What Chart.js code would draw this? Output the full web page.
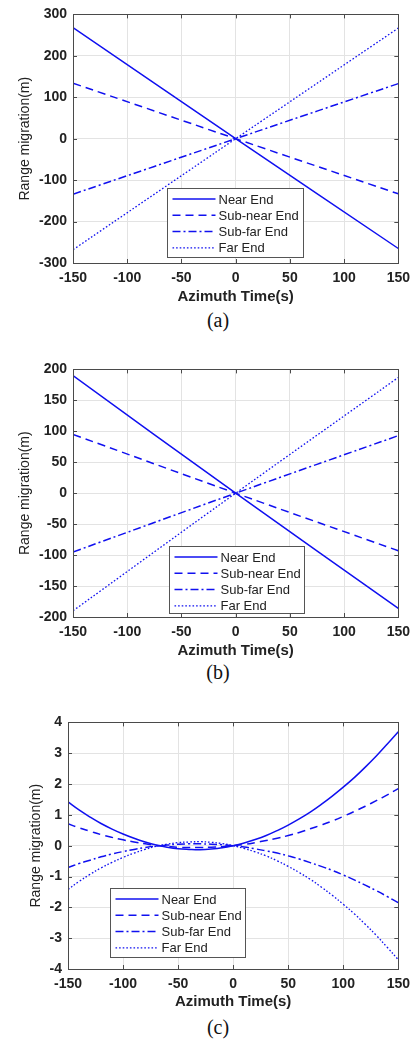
<!DOCTYPE html>
<html lang="en">

<head>
    <meta charset="UTF-8">
    <title>Range migration vs azimuth time</title>
    <script src="https://cdn.jsdelivr.net/npm/chart.js@4.4.1/dist/chart.umd.min.js"></script>
    <style>
        body { margin: 0; background: #fff; width: 417px; height: 1040px; position: relative; overflow: hidden; }
        canvas { position: absolute; left: 0; }
        .cap { position: absolute; left: 188px; width: 60px; text-align: center; font: 20px "Liberation Serif", serif; line-height: 24px; color: #111; }
    </style>
</head>

<body>

    <canvas id="chartA" width="417" height="306" style="top:0px"></canvas>
    <div class="cap" style="top:308px">(a)</div>
    <canvas id="chartB" width="417" height="305" style="top:355px"></canvas>
    <div class="cap" style="top:660px">(b)</div>
    <canvas id="chartC" width="417" height="303" style="top:708px"></canvas>
    <div class="cap" style="top:1015px">(c)</div>

    <script>

        // series names
        const seriesNames = ['Near End', 'Sub-near End', 'Sub-far End', 'Far End'];

        // tick labels
        const xTicks = [-150, -100, -50, 0, 50, 100, 150];
        const yTicksA = [-300, -200, -100, 0, 100, 200, 300];
        const yTicksB = [-200, -150, -100, -50, 0, 50, 100, 150, 200];
        const yTicksC = [-4, -3, -2, -1, 0, 1, 2, 3, 4];

        // (a) and (b) are straight lines
        const timeLin = [-150, 0, 150];
        const nearA = [268, 0, -265];
        const subNearA = [134, 0, -133];
        const subFarA = [-134, 0, 133];
        const farA = [-268, 0, 267];

        const nearB = [190, 0, -186];
        const subNearB = [95, 0, -93];
        const subFarB = [-95, 0, 93];
        const farB = [-190, 0, 187];

        // (c) curves read every 10 s
        const timeC = [-150, -140, -130, -120, -110, -100, -90, -80, -70, -60, -50, -40, -30, -20, -10, 0,
            10, 20, 30, 40, 50, 60, 70, 80, 90, 100, 110, 120, 130, 140, 150];
        const nearC = [1.42, 1.16, 0.93, 0.72, 0.54, 0.38, 0.24, 0.12, 0.02, -0.05, -0.10, -0.12, -0.13, -0.11, -0.07, 0,
            0.09, 0.20, 0.33, 0.49, 0.67, 0.87, 1.09, 1.34, 1.61, 1.90, 2.21, 2.55, 2.91, 3.30, 3.70];
        const subNearC = [0.71, 0.58, 0.47, 0.36, 0.27, 0.19, 0.12, 0.06, 0.01, -0.02, -0.05, -0.06, -0.06, -0.05, -0.03, 0,
            0.04, 0.10, 0.17, 0.24, 0.33, 0.43, 0.55, 0.67, 0.80, 0.95, 1.11, 1.28, 1.46, 1.65, 1.85];
        const subFarC = [-0.71, -0.58, -0.47, -0.36, -0.27, -0.19, -0.12, -0.06, -0.01, 0.02, 0.05, 0.06, 0.06, 0.05, 0.03, 0,
            -0.04, -0.10, -0.17, -0.24, -0.33, -0.43, -0.55, -0.67, -0.80, -0.95, -1.11, -1.28, -1.46, -1.65, -1.85];
        const farC = [-1.42, -1.16, -0.93, -0.72, -0.54, -0.38, -0.24, -0.12, -0.02, 0.05, 0.10, 0.12, 0.13, 0.11, 0.07, 0,
            -0.09, -0.20, -0.33, -0.49, -0.67, -0.87, -1.09, -1.34, -1.61, -1.90, -2.21, -2.55, -2.91, -3.30, -3.70];

        const dashes = [[], [8, 5], [8, 3, 2, 3], [1.6, 2]];
        const widths = [1.5, 1.5, 1.5, 1.3];

        // box, inward ticks and legend like matlab
        const framePlugin = {
            id: 'frame',
            afterDatasetsDraw(chart, args, opts) {
                const ctx = chart.ctx;
                const a = chart.chartArea;
                const xs = chart.scales.x, ys = chart.scales.y;
                function seg(x1, y1, x2, y2) { ctx.beginPath(); ctx.moveTo(x1, y1); ctx.lineTo(x2, y2); ctx.stroke(); }
                ctx.save();
                ctx.setLineDash([]);
                ctx.strokeStyle = '#4a4a4a';
                ctx.lineWidth = 1;
                for (const t of xs.ticks) {
                    const px = Math.round(xs.getPixelForValue(t.value)) + 0.5;
                    seg(px, a.bottom, px, a.bottom - 4);
                    seg(px, a.top, px, a.top + 4);
                }
                for (const t of ys.ticks) {
                    const py = Math.round(ys.getPixelForValue(t.value)) + 0.5;
                    seg(a.left, py, a.left + 4, py);
                    seg(a.right, py, a.right - 4, py);
                }
                ctx.strokeRect(Math.round(a.left) + 0.5, Math.round(a.top) + 0.5, Math.round(a.right - a.left), Math.round(a.bottom - a.top));

                // legend box
                const L = opts.box;
                const bx = Math.round(a.left + L.left) + 0.5;
                const by = Math.round(a.bottom - L.bottom - L.height) + 0.5;
                ctx.fillStyle = '#fff';
                ctx.fillRect(bx, by, L.width, L.height);
                ctx.strokeStyle = '#555';
                ctx.strokeRect(bx, by, L.width, L.height);
                ctx.font = '13px "Liberation Sans", Arial, sans-serif';
                ctx.textBaseline = 'middle';
                ctx.fillStyle = '#222';
                chart.data.datasets.forEach((ds, i) => {
                    const cy = by + 10.5 + i * 16.3;
                    ctx.strokeStyle = ds.borderColor;
                    ctx.lineWidth = ds.borderWidth;
                    ctx.setLineDash(ds.borderDash);
                    seg(bx + 5, cy, bx + 48, cy);
                    ctx.fillText(ds.label, bx + 51, cy + 1);
                });
                ctx.restore();
            }
        };

        function makeChart(id, xVals, seriesList, yTicks, yWidth, yTitlePad, xHeight, rightPad, legendBox) {
            const datasets = seriesList.map((vals, i) => ({
                label: seriesNames[i],
                data: xVals.map((t, k) => ({ x: t, y: vals[k] })),
                borderColor: '#1010f0',
                borderWidth: widths[i],
                borderDash: dashes[i],
                pointRadius: 0,
                tension: 0.4,
                fill: false
            }));
            const tickFont = { family: '"Liberation Sans", Arial, sans-serif', size: 14, weight: 'bold' };
            return new Chart(document.getElementById(id).getContext('2d'), {
                type: 'line',
                data: { datasets: datasets },
                options: {
                    responsive: false,
                    animation: false,
                    devicePixelRatio: 1,
                    layout: { padding: { top: 13, right: rightPad, left: 0, bottom: 0 } },
                    plugins: {
                        legend: { display: false },
                        tooltip: { enabled: false },
                        frame: { box: legendBox }
                    },
                    scales: {
                        x: {
                            type: 'linear',
                            min: xTicks[0],
                            max: xTicks[xTicks.length - 1],
                            afterBuildTicks: s => { s.ticks = xTicks.map(v => ({ value: v })); },
                            afterFit: s => { s.height = xHeight; },
                            grid: { color: '#e3e3e3', drawTicks: false },
                            border: { display: false },
                            ticks: { font: tickFont, color: '#222', padding: 7, maxRotation: 0 },
                            title: {
                                display: true, text: 'Azimuth Time(s)', color: '#222',
                                font: { family: '"Liberation Sans", Arial, sans-serif', size: 15, weight: 'bold' },
                                padding: { top: 0, bottom: 0 }
                            }
                        },
                        y: {
                            type: 'linear',
                            min: yTicks[0],
                            max: yTicks[yTicks.length - 1],
                            afterBuildTicks: s => { s.ticks = yTicks.map(v => ({ value: v })); },
                            afterFit: s => { s.width = yWidth; },
                            grid: { color: '#e3e3e3', drawTicks: false },
                            border: { display: false },
                            ticks: { font: tickFont, color: '#222', padding: 6 },
                            title: {
                                display: true, text: 'Range migration(m)', color: '#222',
                                font: { family: '"Liberation Sans", Arial, sans-serif', size: 14 },
                                padding: { top: yTitlePad, bottom: 0 }
                            }
                        }
                    }
                },
                plugins: [framePlugin]
            });
        }

        makeChart('chartA', timeLin, [nearA, subNearA, subFarA, farA], yTicksA, 73, 16.6, 43, 15,
            { left: 94, bottom: 6, width: 136, height: 69 });
        makeChart('chartB', timeLin, [nearB, subNearB, subFarB, farB], yTicksB, 73, 16.6, 43, 15,
            { left: 96, bottom: 4, width: 135, height: 67 });
        makeChart('chartC', timeC, [nearC, subNearC, subFarC, farC], yTicksC, 68, 27.6, 42, 17,
            { left: 42, bottom: 12, width: 135, height: 69 });

    </script>

</body>

</html>
